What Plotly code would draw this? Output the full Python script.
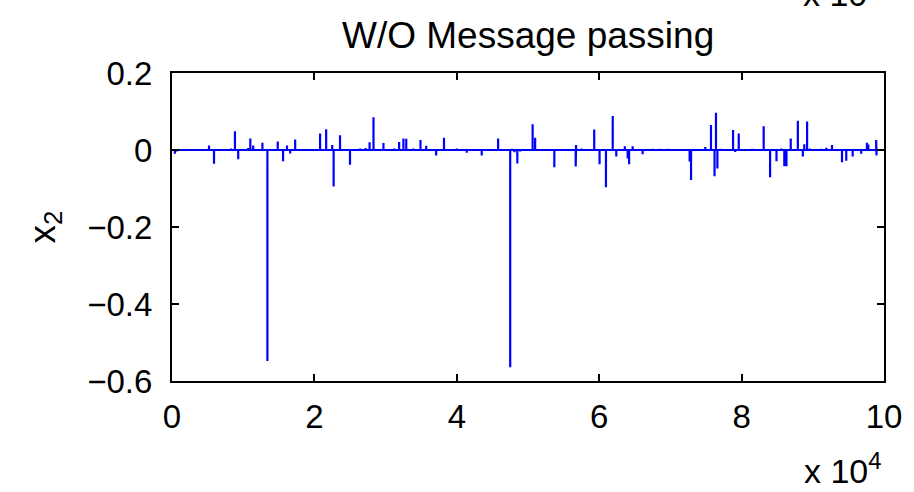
import plotly.graph_objects as go

# Sparse signal: sample index and value of each nonzero entry
spike_idx = [400, 700, 5200, 5900, 8300, 8840, 9300, 10700, 11000, 11400, 12700, 13400,
             14850, 15600, 16150, 16600, 17300, 20800, 21650, 22500, 22700, 23600, 25000,
             26400, 27200, 27750, 28300, 29700, 31200, 31900, 32500, 32900, 33900, 34900,
             35700, 37100, 38200, 40000, 41400, 43500, 45800, 47500, 47800, 48100, 48500,
             48900, 50650, 51000, 53700, 56700, 56750, 57500, 59300, 60050, 60950, 61900,
             62400, 63600, 64000, 64200, 64700, 66100, 67500, 68500, 69700, 72700, 72900,
             74900, 75700, 76200, 76400, 76600, 77000, 78800, 79100, 79600, 81500, 83100,
             84000, 84900, 85600, 86000, 86300, 86900, 87900, 88600, 88800, 89200, 89600,
             91200, 91900, 92700, 94100, 94700, 95600, 96800, 97600, 97800, 98900, 98950]
spike_val = [-0.010, -0.004, 0.012, -0.036, 0.004, 0.049, -0.024, 0.005, 0.030, 0.012, 0.019, -0.548,
             0.022, -0.029, 0.012, -0.009, 0.027, 0.043, 0.054, 0.013, -0.095, 0.038, -0.038,
             0.004, 0.005, 0.020, 0.085, 0.018, 0.004, 0.021, 0.030, 0.029, 0.004, 0.026,
             0.011, -0.014, 0.032, 0.004, -0.007, -0.014, 0.030, -0.564, 0.003, -0.006, -0.035,
             -0.004, 0.067, 0.032, -0.045, -0.043, 0.013, 0.004, 0.053, -0.037, -0.097, 0.088,
             -0.017, 0.010, -0.022, -0.037, 0.010, -0.011, 0.003, 0.003, 0.003, -0.030, -0.078,
             0.008, 0.065, -0.068, 0.097, -0.048, 0.003, 0.052, -0.005, 0.043, 0.003, 0.062,
             -0.071, -0.029, 0.004, -0.042, -0.042, 0.030, 0.076, -0.017, 0.015, 0.074, 0.004,
             0.003, 0.006, 0.013, -0.032, -0.028, -0.017, -0.010, 0.019, 0.014, 0.026, -0.014]
n_samples = 100000

x_ticks = [0, 20000, 40000, 60000, 80000, 100000]
x_ticktext = ["0", "2", "4", "6", "8", "10"]
y_ticks = [-0.6, -0.4, -0.2, 0, 0.2]
y_ticktext = ["\u22120.6", "\u22120.4", "\u22120.2", "0", "0.2"]

# build signal polyline (each nonzero sample is a single-sample spike)
xs, ys = [0], [0]
for i, v in zip(spike_idx, spike_val):
    xs += [i, i, i]
    ys += [0, v, 0]
xs.append(n_samples)
ys.append(0)

FONT = "Liberation Sans, Arial, Helvetica, sans-serif"

fig = go.Figure()
fig.add_trace(go.Scatter(x=xs, y=ys, mode="lines",
                         line=dict(color="#0000ff", width=2.2), hoverinfo="skip"))

axis_common = dict(showgrid=False, zeroline=False, showline=True, linecolor="black",
                   linewidth=2, mirror="ticks", ticks="inside", ticklen=7, tickwidth=1.5,
                   tickcolor="black", tickfont=dict(family=FONT, size=33, color="black"))

fig.update_xaxes(range=[0, n_samples], tickvals=x_ticks, ticktext=x_ticktext,
                 ticklabelstandoff=5, **axis_common)
fig.update_yaxes(range=[-0.6, 0.2], tickvals=y_ticks, ticktext=y_ticktext,
                 ticklabelstandoff=11, **axis_common)

annotations = [
    dict(text="W/O Message passing", x=0.5, xref="paper", y=1, yref="paper",
         yanchor="bottom", yshift=15, showarrow=False,
         font=dict(family=FONT, size=37, color="black")),
    dict(text="x<sub>2</sub>", x=-0.179, xref="paper", y=0.5, yref="paper",
         textangle=-90, showarrow=False, xanchor="center", yanchor="middle",
         font=dict(family=FONT, size=37, color="black")),
    dict(text="x 10<sup>4</sup>", x=1.0, xref="paper", y=0, yref="paper",
         xanchor="right", yanchor="top", yshift=-64, showarrow=False,
         font=dict(family=FONT, size=34, color="black")),
    dict(text="x 10<sup>\u22123</sup>", x=0.884, xref="paper", y=1, yref="paper",
         xanchor="left", yanchor="bottom", yshift=58, showarrow=False,
         font=dict(family=FONT, size=34, color="black")),
]

fig.update_layout(width=914, height=492, margin=dict(l=172, r=26, t=73, b=111),
                  paper_bgcolor="white", plot_bgcolor="white", showlegend=False,
                  annotations=annotations)

fig.write_html("out.html")
